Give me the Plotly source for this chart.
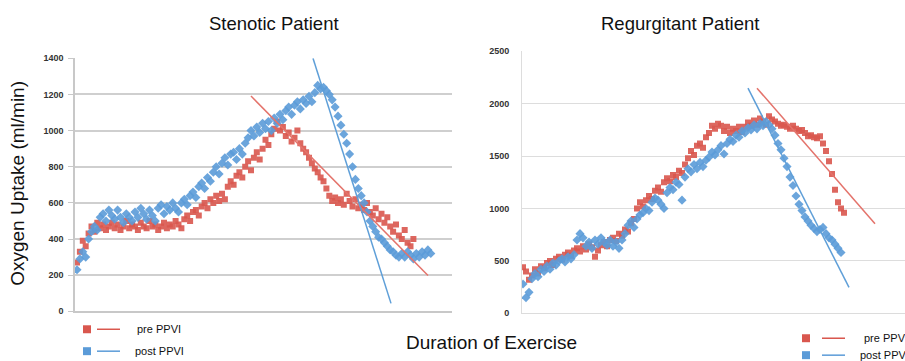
import plotly.graph_objects as go

# ---------------- data (time in s, VO2 in ml/min) ----------------
# Stenotic patient, breath samples every 5.8 s
sten_start = 4
sten_step = 5.8
sten_pre_vo2 = [270, 330, 390, 360, 430, 470, 440, 490, 460, 480, 450, 470, 490, 460, 480, 450, 470, 500, 460, 480,
                470, 450, 490, 470, 460, 500, 470, 480, 450, 470, 490, 460, 480, 470, 500, 480, 460, 510, 530, 500,
                550, 560, 530, 580, 600, 570, 620, 600, 640, 610, 650, 620, 690, 720, 700, 750, 770, 740, 800, 830,
                780, 850, 880, 840, 900, 950, 920, 980, 1010, 1050, 1000, 1020, 970, 990, 940, 960, 1000, 930, 900, 880,
                850, 820, 790, 770, 740, 720, 680, 640, 610, 630, 600, 620, 590, 650, 610, 580, 620, 570, 590, 560,
                600, 550, 530, 570, 510, 540, 490, 520, 470, 440, 480, 420, 400, 450, 380, 360, 400]
sten_post_vo2 = [230, 290, 330, 300, 400, 440, 470, 450, 520, 540, 500, 560, 530, 510, 560, 520, 490, 540, 520, 500,
                 550, 520, 570, 540, 510, 560, 530, 500, 570, 590, 540, 580, 560, 600, 570, 550, 600, 620, 590, 640,
                 660, 630, 690, 710, 680, 740, 720, 770, 800, 760, 820, 850, 810, 870, 880, 840, 900, 870, 930, 960,
                 1000, 970, 1020, 990, 1040, 1010, 1050, 1000, 1070, 1040, 1090, 1060, 1110, 1130, 1090, 1140, 1160, 1120, 1170, 1150,
                 1190, 1160, 1210, 1250, 1230, 1240, 1220, 1200, 1170, 1130, 1080, 1030, 980, 930, 870, 800, 730, 680, 640, 600,
                 550, 500, 470, 440, 410, 400, 380, 360, 340, 330, 310, 300, 320, 300, 330, 310, 290, 320, 300, 330,
                 310, 340, 320]
sten_pre_fit_t = [352, 706]
sten_pre_fit_vo2 = [1191, 198]
sten_post_fit_t = [476, 632]
sten_post_fit_vo2 = [1400, 44]

# Regurgitant patient, breath samples every 6 s
reg_start = 2
reg_step = 6
reg_pre_vo2 = [440, 400, 320, 360, 420, 380, 450, 430, 480, 500, 460, 520, 540, 510, 560, 580, 550, 600, 620, 590,
               640, 610, 660, 630, 540, 600, 650, 680, 640, 700, 720, 690, 760, 740, 800, 780, 860, 900, 1000, 1060,
               1020, 1080, 1120, 1090, 1170, 1200, 1160, 1250, 1290, 1260, 1320, 1300, 1360, 1340, 1420, 1480, 1550, 1510, 1600, 1620,
               1580, 1680, 1720, 1790, 1760, 1810, 1790, 1740, 1780, 1720, 1760, 1740, 1780, 1730, 1780, 1820, 1790, 1840, 1800, 1860,
               1830, 1800, 1880, 1850, 1830, 1810, 1790, 1800, 1780, 1760, 1790, 1760, 1740, 1750, 1720, 1690, 1700, 1680, 1670, 1690,
               1620, 1550, 1450, 1330, 1180, 1060, 1000, 960]
reg_post_vo2 = [280, 150, 200, 330, 380, 350, 420, 400, 450, 420, 480, 460, 500, 520, 490, 540, 520, 560, 700, 760,
                720, 640, 680, 620, 700, 660, 720, 680, 650, 700, 640, 680, 620, 700, 760, 840, 880, 820, 900, 940,
                960, 1000, 980, 1060, 1100, 1080, 1040, 1000, 1150, 1200, 1180, 1250, 1230, 1080, 1300, 1380, 1350, 1420, 1380, 1440,
                1400, 1460, 1490, 1540, 1510, 1560, 1600, 1520, 1620, 1660, 1640, 1700, 1680, 1740, 1720, 1770, 1750, 1800, 1760, 1810,
                1790, 1830, 1800, 1760, 1700, 1620, 1560, 1480, 1400, 1300, 1220, 1120, 1040, 980, 920, 880, 840, 810, 780, 800,
                820, 760, 720, 700, 660, 620, 580]
reg_pre_fit_t = [470, 706]
reg_pre_fit_vo2 = [2148, 855]
reg_post_fit_t = [452, 654]
reg_post_fit_vo2 = [2148, 247]

def times(start, step, vals):
    return [round(start + step * i, 2) for i in range(len(vals))]

RED = "#d9574e"
BLUE = "#5b9bd8"
RED_LINE = "#e4736b"
BLUE_LINE = "#5f9fd8"

fig = go.Figure()

def add_series(t, v, color, symbol, size, xa, ya):
    fig.add_trace(go.Scatter(x=t, y=v, mode="markers", xaxis=xa, yaxis=ya, showlegend=False,
                             marker=dict(color=color, symbol=symbol, size=size, opacity=0.9,
                                         line=dict(width=0))))

def add_fit(t, v, color, xa, ya):
    fig.add_trace(go.Scatter(x=t, y=v, mode="lines", xaxis=xa, yaxis=ya, showlegend=False,
                             line=dict(color=color, width=1.5)))

add_series(times(sten_start, sten_step, sten_pre_vo2), sten_pre_vo2, RED, "square", 6, "x", "y")
add_series(times(sten_start, sten_step, sten_post_vo2), sten_post_vo2, BLUE, "diamond", 7, "x", "y")
add_fit(sten_pre_fit_t, sten_pre_fit_vo2, RED_LINE, "x", "y")
add_fit(sten_post_fit_t, sten_post_fit_vo2, BLUE_LINE, "x", "y")

add_series(times(reg_start, reg_step, reg_pre_vo2), reg_pre_vo2, RED, "square", 6, "x2", "y2")
add_series(times(reg_start, reg_step, reg_post_vo2), reg_post_vo2, BLUE, "diamond", 7, "x2", "y2")
add_fit(reg_pre_fit_t, reg_pre_fit_vo2, RED_LINE, "x2", "y2")
add_fit(reg_post_fit_t, reg_post_fit_vo2, BLUE_LINE, "x2", "y2")

W, H = 905, 361

def Y(y):
    # vertical pixel position -> paper fraction (with small correction for the rendered scale)
    yc = (y - 3.5) / 0.976
    return 1 - yc / H

tickfont = dict(family="Liberation Sans, Arial", size=9, color="#333333", weight="bold")

fig.update_layout(
    width=W, height=H,
    margin=dict(l=0, r=0, t=0, b=0),
    paper_bgcolor="white", plot_bgcolor="white",
    xaxis=dict(domain=[75 / W, 452 / W], range=[0, 754], showticklabels=False, showgrid=False,
               zeroline=False, showline=True, linecolor="#c8c8c8", linewidth=1.5, ticks=""),
    yaxis=dict(domain=[Y(311), Y(57)], range=[0, 1400], dtick=200, showgrid=True,
               gridcolor="#cfcfcf", gridwidth=1.5, zeroline=False, showline=True, linecolor="#c8c8c8",
               linewidth=1.5, ticks="outside", ticklen=5, tickcolor="#c8c8c8", tickfont=tickfont,
               ticklabelstandoff=3),
    xaxis2=dict(domain=[522 / W, 1.0], range=[0, 766], showticklabels=False, showgrid=False,
                zeroline=False, showline=True, linecolor="#dcdcdc", linewidth=1, ticks="", anchor="y2"),
    yaxis2=dict(domain=[Y(313), Y(50)], range=[0, 2500], dtick=500, showgrid=True,
                gridcolor="#dddddd", gridwidth=1.2, zeroline=False, showline=True, linecolor="#dddddd",
                linewidth=1, ticks="", ticklen=0, tickfont=tickfont, anchor="x2", ticklabelstandoff=10),
    font=dict(family="Liberation Sans, Arial", color="#111111"),
)

def ann(text, x, y, size, angle=0, xanchor="center"):
    fig.add_annotation(text=text, x=x / W, y=Y(y), xref="paper", yref="paper", showarrow=False,
                       font=dict(size=size, family="Liberation Sans, Arial", color="#111111"),
                       textangle=angle, xanchor=xanchor, yanchor="middle")

ann("Stenotic Patient", 274, 22, 18.5)
ann("Regurgitant Patient", 680, 22, 18.5)
ann("Oxygen Uptake (ml/min)", 18, 183, 19, angle=-90)
ann("Duration of Exercise", 491, 342, 19)

def legend_item(sq_x, y, color, label, line_x0, line_x1, text_x):
    fig.add_shape(type="rect", xref="paper", yref="paper",
                  x0=(sq_x - 4) / W, x1=(sq_x + 4) / W, y0=Y(y + 4), y1=Y(y - 4),
                  fillcolor=color, line=dict(width=0))
    fig.add_shape(type="line", xref="paper", yref="paper",
                  x0=line_x0 / W, x1=line_x1 / W, y0=Y(y), y1=Y(y),
                  line=dict(color=color, width=1.5))
    fig.add_annotation(text=label, x=text_x / W, y=Y(y), xref="paper", yref="paper", showarrow=False,
                       font=dict(size=11, family="Liberation Sans, Arial", color="#111111"),
                       xanchor="left", yanchor="middle")

legend_item(87, 329, RED, "pre PPVI", 97, 120, 135)
legend_item(87, 351, BLUE, "post PPVI", 97, 120, 133)
legend_item(806, 338, RED, "pre PPVI", 822, 845, 862)
legend_item(806, 355, BLUE, "post PPVI", 822, 845, 858)

fig.write_html(
    "out.html",
    config={"displayModeBar": False, "responsive": False},
    div_id="chart",
    post_script=(
        "var s=document.documentElement.style;s.margin='0';s.padding='0';s.overflow='hidden';"
        "var b=document.body.style;b.margin='0';b.padding='0';b.overflow='hidden';"
        "var g=document.getElementById('chart').style;g.position='fixed';g.top='0';g.left='0';"
    ),
)
